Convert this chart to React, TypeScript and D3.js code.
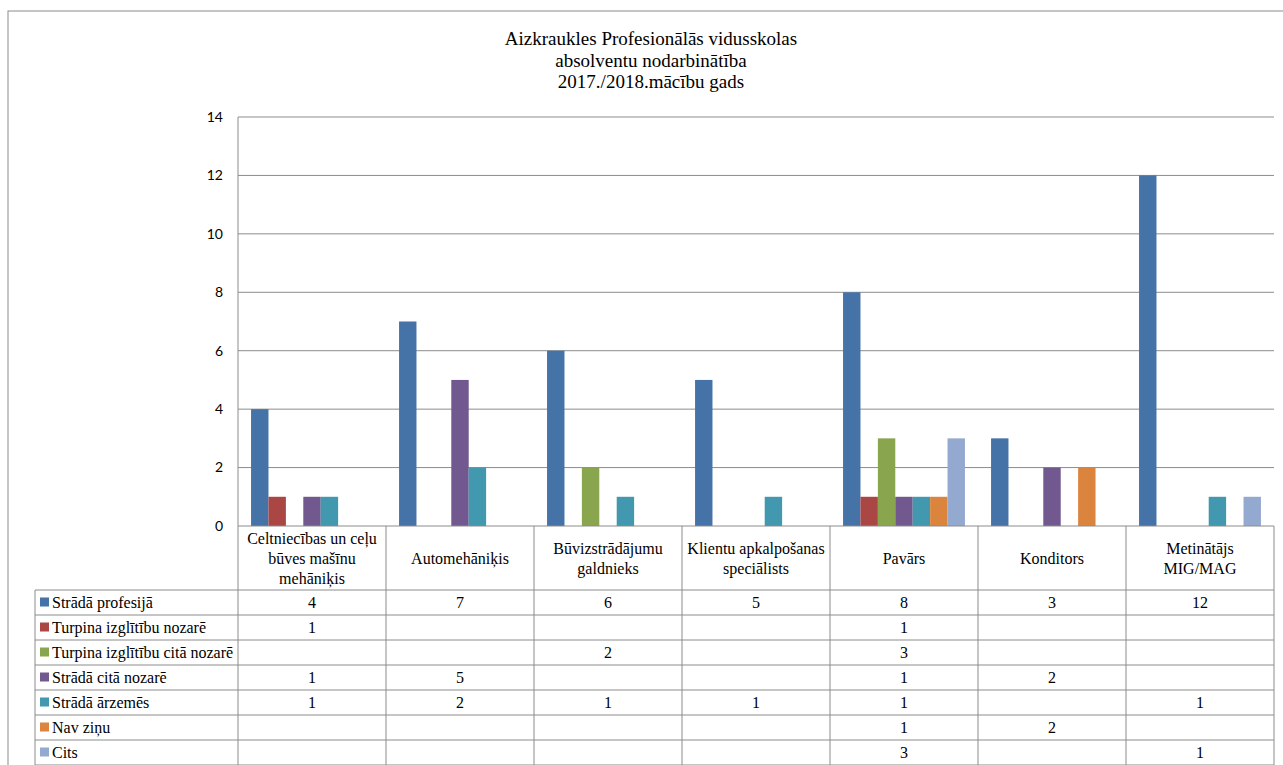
import * as d3 from 'd3'

// chart data
const titleLines = [
  'Aizkraukles Profesionālās vidusskolas',
  'absolventu nodarbinātība',
  '2017./2018.mācību gads',
]

const categories = [
  ['Celtniecības un ceļu', 'būves mašīnu', 'mehāniķis'],
  ['Automehāniķis'],
  ['Būvizstrādājumu', 'galdnieks'],
  ['Klientu apkalpošanas', 'speciālists'],
  ['Pavārs'],
  ['Konditors'],
  ['Metinātājs', 'MIG/MAG'],
]

const seriesNames = [
  'Strādā profesijā',
  'Turpina izglītību nozarē',
  'Turpina izglītību citā nozarē',
  'Strādā citā nozarē',
  'Strādā ārzemēs',
  'Nav ziņu',
  'Cits',
]

const seriesColors = ['#4572A7', '#AA4643', '#89A54E', '#71588F', '#4198AF', '#DB843D', '#93A9CF']

const stradaProfesija = [4, 7, 6, 5, 8, 3, 12]
const turpinaNozare = [1, null, null, null, 1, null, null]
const turpinaCita = [null, null, 2, null, 3, null, null]
const stradaCita = [1, 5, null, null, 1, 2, null]
const stradaArzemes = [1, 2, 1, 1, 1, null, 1]
const navZinu = [null, null, null, null, 1, 2, null]
const cits = [null, null, null, null, 3, null, 1]

const seriesValues: (number | null)[][] = [
  stradaProfesija, turpinaNozare, turpinaCita, stradaCita, stradaArzemes, navZinu, cits,
]

const yTicks = [0, 2, 4, 6, 8, 10, 12, 14]

const W = 1283
const H = 765

const serifStyle = { fontFamily: "'Liberation Serif', 'DejaVu Serif', serif" }
const sansStyle = { fontFamily: "Lato, 'Open Sans', sans-serif" }

export default function App() {
  const plot = { left: 238, right: 1274, top: 117, bottom: 526 }
  const tableLeft = 35
  const headerBottom = 590
  const rowH = 25

  const x = d3.scaleBand<number>()
    .domain(d3.range(categories.length))
    .range([plot.left, plot.right])
    .paddingInner(0)
    .paddingOuter(0)

  const xs = d3.scaleBand<number>()
    .domain(d3.range(seriesNames.length))
    .range([0, x.bandwidth()])
    .paddingInner(0)
    .paddingOuter(0.75)

  const y = d3.scaleLinear().domain([0, 14]).range([plot.bottom, plot.top])

  const lineCol = '#8c8c8c'
  const tableBottom = headerBottom + rowH * seriesNames.length

  return (
    <svg width={W} height={H} style={{ position: 'absolute', left: 0, top: 0, background: '#fff' }}>
      <rect x={8} y={11} width={W} height={H} fill="none" stroke={lineCol} strokeWidth={1} />

      {/* title */}
      <text textAnchor="middle" style={serifStyle} fontSize={19} fill="#000">
        {titleLines.map((t, i) => (
          <tspan key={i} x={651} y={45 + i * 21.5}>{t}</tspan>
        ))}
      </text>

      {/* gridlines + y ticks */}
      {yTicks.map(t => (
        <g key={t}>
          {t > 0 && (
            <line x1={plot.left} x2={plot.right} y1={y(t)} y2={y(t)} stroke={lineCol} strokeWidth={1} />
          )}
          <text x={223} y={y(t)} dy="0.35em" textAnchor="end" style={sansStyle} fontSize={14} fill="#000">{t}</text>
        </g>
      ))}
      <line x1={plot.left} x2={plot.left} y1={plot.top} y2={plot.bottom} stroke={lineCol} />

      {/* bars */}
      {seriesValues.map((vals, si) =>
        vals.map((v, ci) => v == null ? null : (
          <rect
            key={`${si}-${ci}`}
            x={(x(ci) ?? 0) + (xs(si) ?? 0)}
            y={y(v)}
            width={xs.bandwidth()}
            height={y(0) - y(v)}
            fill={seriesColors[si]}
          />
        ))
      )}

      {/* data table */}
      <line x1={plot.left} x2={plot.right} y1={plot.bottom} y2={plot.bottom} stroke={lineCol} />
      {d3.range(seriesNames.length + 1).map(r => (
        <line key={`h${r}`} x1={tableLeft} x2={plot.right} y1={headerBottom + r * rowH} y2={headerBottom + r * rowH} stroke={lineCol} />
      ))}
      <line x1={tableLeft} x2={tableLeft} y1={headerBottom} y2={tableBottom} stroke={lineCol} />
      {d3.range(categories.length + 1).map(i => {
        const xx = i < categories.length ? (x(i) ?? 0) : plot.right
        return <line key={`v${i}`} x1={xx} x2={xx} y1={plot.bottom} y2={tableBottom} stroke={lineCol} />
      })}

      {categories.map((lines, ci) => {
        const cx = (x(ci) ?? 0) + x.bandwidth() / 2
        const mid = (plot.bottom + headerBottom) / 2
        return (
          <text key={`c${ci}`} textAnchor="middle" style={serifStyle} fontSize={16} fill="#000">
            {lines.map((l, li) => (
              <tspan key={li} x={cx} y={mid + (li - (lines.length - 1) / 2) * 20} dy="0.35em">{l}</tspan>
            ))}
          </text>
        )
      })}

      {seriesNames.map((name, si) => {
        const cy = headerBottom + si * rowH + rowH / 2
        return (
          <g key={`r${si}`}>
            <rect x={40} y={cy - 5} width={9} height={9} fill={seriesColors[si]} />
            <text x={52} y={cy} dy="0.35em" style={serifStyle} fontSize={16} fill="#000">{name}</text>
            {seriesValues[si].map((v, ci) => v == null ? null : (
              <text
                key={ci}
                x={(x(ci) ?? 0) + x.bandwidth() / 2}
                y={cy}
                dy="0.35em"
                textAnchor="middle"
                style={serifStyle}
                fontSize={16}
                fill="#000"
              >{v}</text>
            ))}
          </g>
        )
      })}
    </svg>
  )
}
